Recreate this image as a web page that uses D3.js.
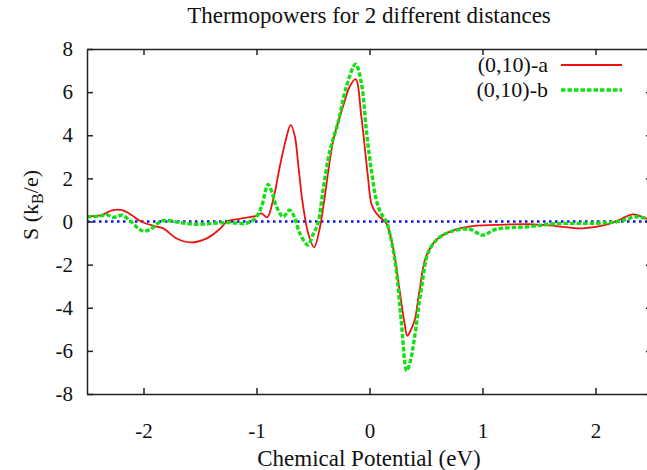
<!DOCTYPE html>
<html>
<head>
<meta charset="utf-8">
<script src="https://cdn.jsdelivr.net/npm/d3@7"></script>
<style>
  body { margin: 0; background: #fff; }
  text { font-family: "Liberation Serif", "Times New Roman", serif; fill: #111; }
</style>
</head>
<body>
<div id="chart"></div>
<script>
// Thermopower vs chemical potential, two curves (D3 v7)

const potentialA = [-2.5, -2.38, -2.31, -2.27, -2.19, -2.12, -2.02, -1.9, -1.825, -1.71, -1.59, -1.44, -1.32, -1.26, -1.15, -1.09, -1.0, -0.956, -0.906,
	-0.853, -0.794, -0.741, -0.697, -0.66, -0.63, -0.59, -0.54, -0.49, -0.44, -0.4, -0.32, -0.235, -0.176, -0.123, -0.072, -0.014, 0.016,
	0.05, 0.089, 0.148, 0.207, 0.266, 0.31, 0.334, 0.36, 0.4, 0.443, 0.5, 0.59, 0.71, 0.88, 1.12, 1.41, 1.65, 1.885, 2.09, 2.21, 2.33, 2.445, 2.5];
const thermoA = [0.26, 0.28, 0.45, 0.53, 0.53, 0.35, 0.0, -0.22, -0.32, -0.78, -0.97, -0.78, -0.32, 0.0, 0.12, 0.18, 0.26, 0.38, 0.19,
	1.0, 2.54, 3.78, 4.48, 3.93, 2.6, 0.8, -0.6, -1.2, -0.3, 1.0, 3.78, 5.32, 6.25, 6.6, 4.86, 2.08, 0.84,
	0.45, 0.22, -0.08, -1.17, -3.18, -4.72, -5.3, -5.1, -4.57, -3.18, -1.63, -0.86, -0.47, -0.24, -0.16, -0.12, -0.21, -0.32, -0.16, 0.07, 0.33, 0.15, 0.1];

const potentialB = [-2.5, -2.38, -2.33, -2.27, -2.19, -2.12, -2.05, -2.0, -1.94, -1.85, -1.8, -1.68, -1.53, -1.38, -1.24, -1.09, -1.015, -0.956, -0.897,
	-0.86, -0.823, -0.765, -0.706, -0.66, -0.617, -0.544, -0.5, -0.456, -0.41, -0.35, -0.28, -0.205, -0.123, -0.072, -0.028, 0.016, 0.06,
	0.1, 0.148, 0.19, 0.237, 0.28, 0.33, 0.36, 0.4, 0.457, 0.53, 0.65, 0.88, 1.0, 1.12, 1.41, 1.65, 2.0, 2.2, 2.36, 2.445, 2.5];
const thermoB = [0.22, 0.26, 0.33, 0.19, 0.29, 0.04, -0.3, -0.45, -0.36, 0.0, 0.05, -0.05, -0.13, -0.08, -0.05, -0.08, 0.12, 0.69, 1.72,
	1.3, 0.69, 0.22, 0.53, 0.15, -0.55, -1.09, -0.6, -0.08, 1.5, 3.3, 4.55, 6.25, 7.3, 6.41, 4.24, 2.39, 1.0,
	0.4, 0.0, -0.8, -2.25, -4.57, -6.92, -6.5, -5.34, -3.18, -1.32, -0.63, -0.35, -0.63, -0.36, -0.24, -0.1, -0.08, 0.0, 0.22, 0.15, 0.12];

const xTicks = [-2, -1, 0, 1, 2];
const yTicks = [-8, -6, -4, -2, 0, 2, 4, 6, 8];
const seriesNames = ['(0,10)-a', '(0,10)-b'];

const margin = {top: 49, right: -5, bottom: 76, left: 87};
const W = 647, H = 470;
const width = W - margin.left - margin.right;
const height = H - margin.top - margin.bottom;

const svgRoot = d3.select('#chart').append('svg')
	.attr('width', W)
	.attr('height', H);

const svg = svgRoot.append('g')
	.attr('transform', `translate(${margin.left},${margin.top})`);

const x = d3.scaleLinear().domain([-2.5, 2.5]).range([0, width]);
const y = d3.scaleLinear().domain([-8, 8]).range([height, 0]);

// title
svgRoot.append('text')
	.attr('x', 369)
	.attr('y', 23)
	.attr('text-anchor', 'middle')
	.style('font-size', '23px')
	.text('Thermopowers for 2 different distances');

// zero line
svg.append('line')
	.attr('x1', 0).attr('x2', width)
	.attr('y1', y(0)).attr('y2', y(0))
	.attr('stroke', '#1010ee')
	.attr('stroke-width', 2.5)
	.attr('stroke-dasharray', '2.5,3.5');

const line = d3.line()
	.x(d => x(d[0]))
	.y(d => y(d[1]))
	.curve(d3.curveCatmullRom.alpha(0.5));

const dataA = potentialA.map((p, i) => [p, thermoA[i]]);
const dataB = potentialB.map((p, i) => [p, thermoB[i]]);

svg.append('path')
	.datum(dataA)
	.attr('d', line)
	.attr('fill', 'none')
	.attr('stroke', '#ee1111')
	.attr('stroke-width', 1.8);

svg.append('path')
	.datum(dataB)
	.attr('d', line)
	.attr('fill', 'none')
	.attr('stroke', '#11e011')
	.attr('stroke-width', 3.4)
	.attr('stroke-dasharray', '4.5,2');

// axes, gnuplot style: inward ticks, mirrored
const fmt = d => String(d);
const axisStyle = g => {
	g.select('.domain').attr('stroke', '#222').attr('stroke-width', 1.5);
	g.selectAll('.tick line').attr('stroke', '#222').attr('stroke-width', 1.5);
	g.selectAll('text').style('font-size', '21px').attr('fill', '#111');
};

svg.append('g')
	.attr('transform', `translate(0,${height})`)
	.call(d3.axisBottom(x).tickValues(xTicks).tickSizeInner(-6).tickSizeOuter(0).tickPadding(29).tickFormat(fmt))
	.call(axisStyle);

svg.append('g')
	.call(d3.axisTop(x).tickValues(xTicks).tickSizeInner(-6).tickSizeOuter(0).tickFormat(''))
	.call(axisStyle);

svg.append('g')
	.call(d3.axisLeft(y).tickValues(yTicks).tickSizeInner(-6).tickSizeOuter(0).tickPadding(14).tickFormat(fmt))
	.call(axisStyle);

svg.append('g')
	.attr('transform', `translate(${width},0)`)
	.call(d3.axisRight(y).tickValues(yTicks).tickSizeInner(-6).tickSizeOuter(0).tickFormat(''))
	.call(axisStyle);

// axis titles
svgRoot.append('text')
	.attr('x', 369)
	.attr('y', 466)
	.attr('text-anchor', 'middle')
	.style('font-size', '23px')
	.text('Chemical Potential (eV)');

const yLab = svgRoot.append('text')
	.attr('transform', 'translate(38,205) rotate(-90)')
	.attr('text-anchor', 'middle')
	.style('font-size', '22px');
yLab.append('tspan').text('S (k');
yLab.append('tspan').attr('dy', 5).style('font-size', '16px').text('B');
yLab.append('tspan').attr('dy', -5).text('/e)');

// legend
const legend = svgRoot.append('g');
const legendColors = ['#ee1111', '#11e011'];
const legendWidths = [1.8, 3.4];
const legendDash = [null, '4.5,2'];

const item = legend.selectAll('.item')
	.data(seriesNames)
	.enter()
	.append('g')
	.attr('transform', (d, i) => `translate(0,${65 + i * 25})`);

item.append('text')
	.attr('x', 548)
	.attr('y', 7)
	.attr('text-anchor', 'end')
	.style('font-size', '22px')
	.text(d => d);

item.append('line')
	.attr('x1', 561).attr('x2', 622)
	.attr('y1', 0).attr('y2', 0)
	.attr('stroke', (d, i) => legendColors[i])
	.attr('stroke-width', (d, i) => legendWidths[i])
	.attr('stroke-dasharray', (d, i) => legendDash[i]);
</script>
</body>
</html>
